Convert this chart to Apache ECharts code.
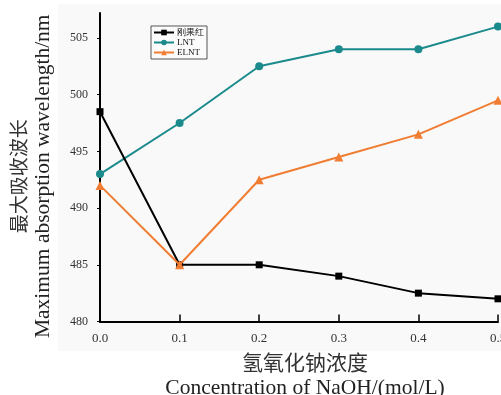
<!DOCTYPE html>
<html>
<head>
<meta charset="utf-8">
<script src="https://cdn.jsdelivr.net/npm/echarts@6/dist/echarts.min.js"></script>
<style>
html,body{margin:0;padding:0;background:#fff;overflow:hidden;}
#c{width:501px;height:395px;}
</style>
</head>
<body>
<div id="c"></div>
<script>
const concentrations = [0.0, 0.1, 0.2, 0.3, 0.4, 0.5];
const congoRed = [498.5, 485, 485, 484, 482.5, 482];
const lnt = [493, 497.5, 502.5, 504, 504, 506];
const elnt = [492, 485, 492.5, 494.5, 496.5, 499.5];
const seriesNames = ['刚果红', 'LNT', 'ELNT'];
const yTicks = [480, 485, 490, 495, 500, 505];
const xTicks = [0.0, 0.1, 0.2, 0.3, 0.4, 0.5];

const pairs = (xs, ys) => xs.map((x, i) => [x, ys[i]]);
const serif = '"Liberation Serif", "DejaVu Serif", serif';
const cjk = '"Noto Sans CJK SC", sans-serif';

const chart = echarts.init(document.getElementById('c'));
chart.setOption({
  animation: false,
  backgroundColor: '#ffffff',
  graphic: [{
    type: 'rect', z: -10, silent: true,
    shape: {x: 58, y: 4, width: 443, height: 347},
    style: {fill: '#f9f9f9'}
  }],
  grid: {left: 100, right: 3, top: 13, bottom: 73.5, outerBoundsMode: 'none', containLabel: false},
  legend: {
    orient: 'vertical',
    left: 151, top: 26,
    itemWidth: 20, itemHeight: 7, itemGap: 1,
    padding: [2, 3, 2, 2],
    borderColor: '#555', borderWidth: 1,
    backgroundColor: '#fbfbfb',
    textStyle: {fontSize: 9, color: '#111', fontFamily: serif, padding: [0,0,0,-2]},
    data: seriesNames
  },
  xAxis: {
    type: 'value', min: 0, max: 0.5, interval: 0.1,
    name: '{cn|氢氧化钠浓度}\n{en|Concentration of NaOH/(mol/L)}',
    nameLocation: 'middle', nameGap: 28,
    nameTextStyle: {
      padding: [0, 0, 0, 12],
      rich: {
        cn: {fontFamily: cjk, fontSize: 21, color: '#333', lineHeight: 26},
        en: {fontFamily: serif, fontSize: 21.5, color: '#222', lineHeight: 25}
      }
    },
    axisLine: {lineStyle: {color: '#000', width: 2}},
    axisTick: {inside: true, length: 7, lineStyle: {color: '#000', width: 1.5}},
    axisLabel: {
      margin: 11, fontSize: 13, color: '#333', fontFamily: serif,
      hideOverlap: false,
      formatter: v => v.toFixed(1)
    },
    splitLine: {show: false}
  },
  yAxis: {
    type: 'value', min: 480, max: 507.2,
    name: '{cn|最大吸收波长}\n{en|Maximum absorption wavelength/nm}',
    nameLocation: 'middle', nameGap: 45, nameRotate: 90,
    nameTextStyle: {
      padding: [0, 18, 0, 0],
      rich: {
        cn: {fontFamily: cjk, fontSize: 19, color: '#333', lineHeight: 24},
        en: {fontFamily: serif, fontSize: 21.5, color: '#222', lineHeight: 24}
      }
    },
    axisLine: {show: true, lineStyle: {color: '#000', width: 2}},
    axisTick: {show: true, length: 3, customValues: yTicks, lineStyle: {color: '#000', width: 1}},
    axisLabel: {margin: 12, fontSize: 12, color: '#333', fontFamily: serif, customValues: yTicks},
    splitLine: {show: false}
  },
  series: [
    {
      name: seriesNames[0], type: 'line', data: pairs(concentrations, congoRed),
      symbol: 'rect', symbolSize: 7,
      lineStyle: {color: '#000', width: 2},
      itemStyle: {color: '#000'}, z: 3
    },
    {
      name: seriesNames[1], type: 'line', data: pairs(concentrations, lnt),
      symbol: 'circle', symbolSize: 8,
      lineStyle: {color: '#1b8a8c', width: 2},
      itemStyle: {color: '#1b8a8c'}, z: 2
    },
    {
      name: seriesNames[2], type: 'line', data: pairs(concentrations, elnt),
      symbol: 'triangle', symbolSize: 9,
      lineStyle: {color: '#f07d32', width: 2},
      itemStyle: {color: '#f07d32'}, z: 4
    }
  ]
});
</script>
</body>
</html>
